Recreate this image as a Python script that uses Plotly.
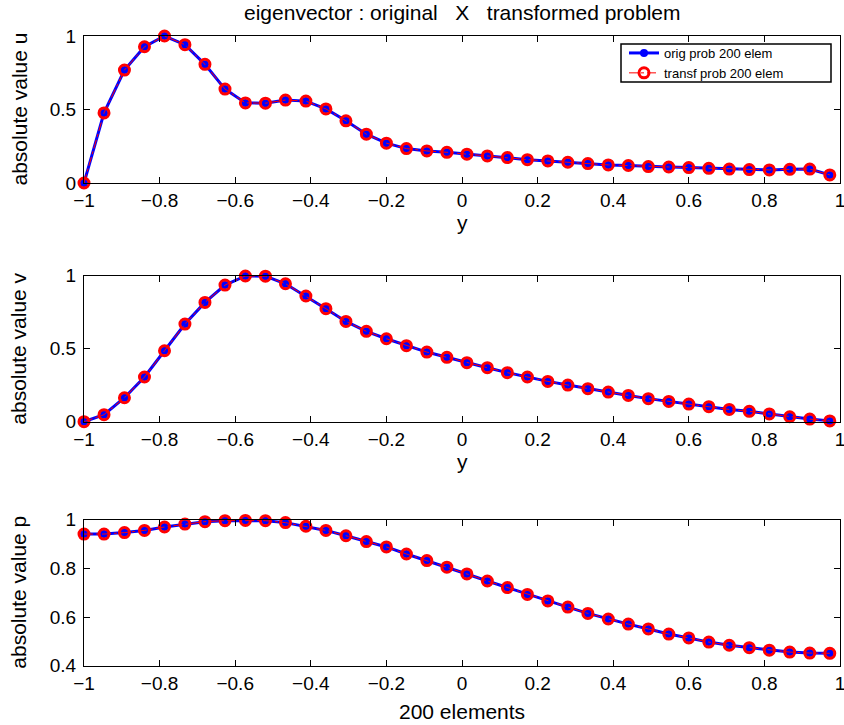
import plotly.graph_objects as go

# ---- data ----
x_nodes = [-1.000, -0.947, -0.893, -0.840, -0.787, -0.733, -0.680, -0.627, -0.573, -0.520,
           -0.467, -0.413, -0.360, -0.307, -0.253, -0.200, -0.147, -0.093, -0.040, 0.013,
           0.067, 0.120, 0.173, 0.227, 0.280, 0.333, 0.387, 0.440, 0.493, 0.547,
           0.600, 0.653, 0.707, 0.760, 0.813, 0.867, 0.920, 0.973]

u_abs = [0.000, 0.477, 0.768, 0.927, 1.000, 0.941, 0.807, 0.639, 0.545, 0.543,
         0.564, 0.557, 0.504, 0.423, 0.332, 0.271, 0.234, 0.218, 0.209, 0.196,
         0.184, 0.173, 0.159, 0.150, 0.141, 0.132, 0.123, 0.119, 0.112, 0.109,
         0.105, 0.100, 0.095, 0.091, 0.089, 0.093, 0.095, 0.055]

v_abs = [0.000, 0.048, 0.164, 0.306, 0.486, 0.669, 0.817, 0.936, 0.998, 0.997,
         0.945, 0.861, 0.774, 0.687, 0.619, 0.568, 0.521, 0.477, 0.441, 0.404,
         0.370, 0.336, 0.306, 0.276, 0.251, 0.226, 0.203, 0.180, 0.158, 0.139,
         0.121, 0.103, 0.084, 0.071, 0.053, 0.034, 0.018, 0.005]

p_abs = [0.941, 0.941, 0.947, 0.956, 0.970, 0.982, 0.992, 0.996, 0.997, 0.996,
         0.988, 0.973, 0.956, 0.934, 0.910, 0.888, 0.859, 0.832, 0.805, 0.777,
         0.748, 0.721, 0.693, 0.666, 0.641, 0.615, 0.592, 0.571, 0.551, 0.530,
         0.514, 0.497, 0.484, 0.474, 0.464, 0.456, 0.452, 0.451]

series_names = ["orig prob 200 elem", "transf prob 200 elem"]
y_titles = ["absolute value u", "absolute value v", "absolute value p"]
x_titles = ["y", "y", "200 elements"]
title_text = "eigenvector : original\u00a0\u00a0\u00a0X\u00a0\u00a0\u00a0transformed problem"
x_tickvals = [-1, -0.8, -0.6, -0.4, -0.2, 0, 0.2, 0.4, 0.6, 0.8, 1]
y_tickvals = [[0, 0.5, 1], [0, 0.5, 1], [0.4, 0.6, 0.8, 1]]
y_ranges = [[0, 1], [0, 1], [0.4, 1]]

# ---- figure ----
W, H = 844, 725
FONT = "Liberation Sans, Arial, Helvetica, sans-serif"
TICK_SIZE = 19
LABEL_SIZE = 21

fig = go.Figure()
panels = [u_abs, v_abs, p_abs]
for i, yv in enumerate(panels):
    xa = "x" if i == 0 else f"x{i+1}"
    ya = "y" if i == 0 else f"y{i+1}"
    fig.add_trace(go.Scatter(
        x=x_nodes, y=yv, xaxis=xa, yaxis=ya, mode="lines+markers",
        name=series_names[0], showlegend=(i == 0), cliponaxis=False,
        line=dict(color="#0000ff", width=3),
        marker=dict(color="#0000ff", size=8, symbol="circle"),
    ))
    fig.add_trace(go.Scatter(
        x=x_nodes, y=yv, xaxis=xa, yaxis=ya, mode="lines+markers",
        name=series_names[1], showlegend=(i == 0), cliponaxis=False,
        line=dict(color="#ff0000", width=1, dash="dashdot"),
        marker=dict(color="#ff0000", size=10, symbol="circle-open",
                    line=dict(color="#ff0000", width=3)),
    ))

# pixel boxes of the three axes (top, bottom) and x-title offsets below each axis
x_left, x_right = 84, 840
boxes = [(36, 183), (275.7, 421.7), (519.7, 665.7)]
xtitle_offsets = [39, 40, 46]
legend_box = (621, 831, 44, 82)  # left, right, top, bottom in px

axis_common = dict(
    showline=True, linecolor="black", linewidth=1, mirror="ticks",
    ticks="inside", ticklen=6, tickcolor="black", tickwidth=1,
    showgrid=False, zeroline=False, ticklabeloverflow="allow",
    tickfont=dict(family=FONT, size=TICK_SIZE, color="black"),
)

lb_l, lb_r, lb_t, lb_b = legend_box
layout = dict(
    width=W, height=H, margin=dict(l=0, r=0, t=0, b=0, autoexpand=False),
    paper_bgcolor="white", plot_bgcolor="white",
    font=dict(family=FONT, color="black"),
    showlegend=True,
    legend=dict(
        x=(lb_l + 3) / W, y=1 - (lb_t - 6) / H, xanchor="left", yanchor="top",
        borderwidth=0, bgcolor="rgba(0,0,0,0)",
        font=dict(family=FONT, size=13, color="black"),
        tracegroupgap=0, itemwidth=30,
    ),
    shapes=[dict(type="rect", xref="paper", yref="paper",
                 x0=lb_l / W, x1=lb_r / W, y0=1 - lb_b / H, y1=1 - lb_t / H,
                 line=dict(color="black", width=1.5), fillcolor="white", layer="above")],
)

annotations = []
for i, (top, bot) in enumerate(boxes):
    xk = "xaxis" if i == 0 else f"xaxis{i+1}"
    yk = "yaxis" if i == 0 else f"yaxis{i+1}"
    ya = "y" if i == 0 else f"y{i+1}"
    xa = "x" if i == 0 else f"x{i+1}"
    layout[xk] = dict(axis_common, domain=[x_left / W, x_right / W], range=[-1, 1],
                      tickmode="array", tickvals=x_tickvals, anchor=ya, automargin=False)
    layout[yk] = dict(axis_common, domain=[1 - bot / H, 1 - top / H], range=y_ranges[i],
                      tickmode="array", tickvals=y_tickvals[i], anchor=xa,
                      ticklabelstandoff=3, automargin=False)
    annotations.append(dict(
        text=y_titles[i], xref="paper", yref="paper", x=19 / W, y=1 - (top + bot) / 2 / H,
        xanchor="center", yanchor="middle", textangle=-90, showarrow=False,
        font=dict(family=FONT, size=LABEL_SIZE, color="black")))
    annotations.append(dict(
        text=x_titles[i], xref="paper", yref="paper", x=(x_left + x_right) / 2 / W,
        y=1 - (bot + xtitle_offsets[i]) / H, xanchor="center", yanchor="middle",
        showarrow=False, font=dict(family=FONT, size=LABEL_SIZE, color="black")))

annotations.append(dict(
    text=title_text, xref="paper", yref="paper", x=(x_left + x_right) / 2 / W, y=1 - 13 / H,
    xanchor="center", yanchor="middle", showarrow=False,
    font=dict(family=FONT, size=LABEL_SIZE, color="black")))
layout["annotations"] = annotations

fig.update_layout(**layout)
fig.write_html("out.html")
